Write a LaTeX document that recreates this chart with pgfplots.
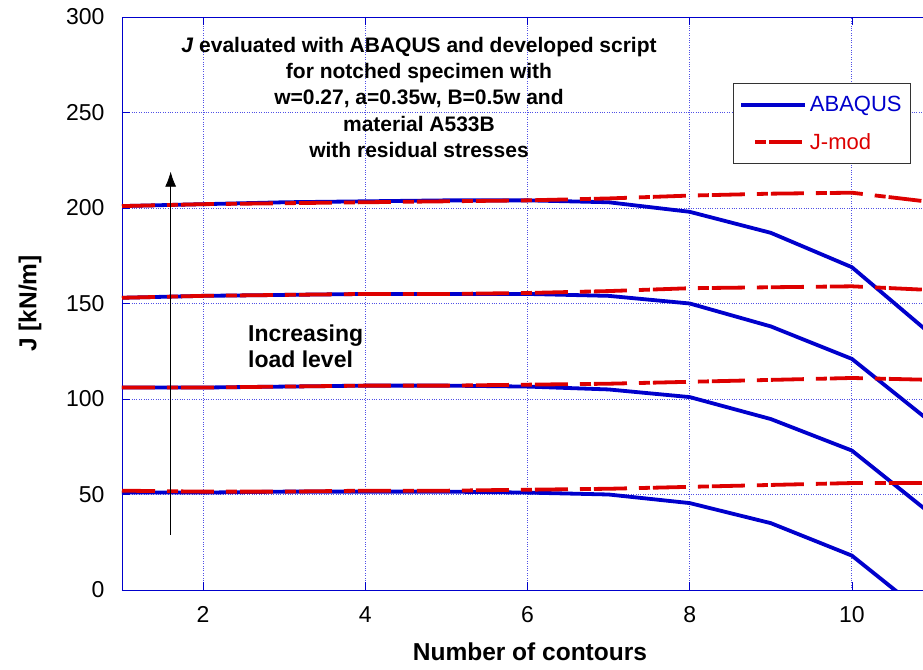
\documentclass[border=0pt]{standalone}
\usepackage{pgfplots}
\pgfplotsset{compat=1.18}
\usetikzlibrary{arrows.meta}
\usepackage{fontspec}
\setmainfont{Liberation Sans}
\definecolor{mblue}{RGB}{0,0,204}
\definecolor{mred}{RGB}{221,0,0}
\definecolor{gridblue}{RGB}{80,80,230}
\begin{document}
\begin{tikzpicture}[font=\fontsize{20}{26}\selectfont]
\begin{axis}[
  scale only axis, width=811pt, height=573pt,
  xmin=1, xmax=11, ymin=0, ymax=300,
  xtick={2,4,6,8,10}, ytick={0,50,...,300},
  /pgf/number format/assume math mode=true,
  axis line style={mblue, line width=0.8pt},
  major tick style={mblue, line width=0.8pt},
  major tick length=8pt,
  tick align=inside,
  grid=major,
  major grid style={gridblue, dotted, line width=0.9pt},
  tick label style={font=\fontsize{23}{26}\selectfont, black},
  xticklabel style={anchor=north, yshift=-13pt},
  yticklabel style={anchor=east, xshift=-14pt},
  xlabel={Number of contours},
  ylabel={J [kN/m]},
  every axis x label/.style={at={(axis description cs:0.503,-0.108)}, anchor=center, font=\bfseries\fontsize{24.5}{28}\selectfont},
  every axis y label/.style={at={(axis description cs:-0.1134,0.5)}, anchor=center, rotate=90, font=\bfseries\fontsize{24.5}{28}\selectfont},
  legend style={at={(0.9729,0.8848)}, anchor=north east, draw=black!80, line width=0.8pt, fill=white,
    font=\fontsize{22}{26}\selectfont, inner xsep=6pt, inner ysep=10pt, row sep=14pt,
    nodes={inner sep=3pt}},
  legend cell align=left,
]
% ABAQUS
\addplot[mblue, line width=3.8pt, legend image code/.code={\draw[mblue, line width=3.8pt] (0pt,0pt) -- (64pt,0pt);}] coordinates {
(1,51) (2,51) (3,51.5) (4,51.5) (5,51.5) (6,51) (7,50) (8,45.5) (9,35) (10,18) (11,-16)};
\addlegendentry{\textcolor{mblue}{ABAQUS}}
\addplot[mblue, line width=3.8pt, forget plot] coordinates {
(1,106) (2,106) (3,106.5) (4,107) (5,107) (6,106.5) (7,105) (8,101) (9,89.5) (10,73) (11,39)};
\addplot[mblue, line width=3.8pt, forget plot] coordinates {
(1,153) (2,154) (3,154.5) (4,155) (5,155) (6,155) (7,154) (8,150) (9,138) (10,121) (11,87)};
\addplot[mblue, line width=3.8pt, forget plot] coordinates {
(1,201) (2,202) (3,203) (4,203.5) (5,204) (6,204) (7,203) (8,198) (9,187) (10,169) (11,133)};
% J-mod
\addplot[mred, line width=3.8pt, dash pattern=on 33pt off 12pt on 11pt off 3pt,
  legend image code/.code={\draw[mred, line width=3.8pt, dash pattern=on 11pt off 3pt on 33pt off 12pt] (14pt,0pt) -- (61pt,0pt);}] coordinates {
(1,52) (2,51.5) (3,51.5) (4,52) (5,52) (6,52.5) (7,53) (8,54) (9,55) (10,56) (11,56)};
\addlegendentry{\textcolor{mred}{J-mod}}
\addplot[mred, line width=3.8pt, dash pattern=on 33pt off 12pt on 11pt off 3pt, forget plot] coordinates {
(1,106) (2,106) (3,106.5) (4,107) (5,107) (6,107.5) (7,108) (8,109) (9,110) (10,111) (11,110)};
\addplot[mred, line width=3.8pt, dash pattern=on 33pt off 12pt on 11pt off 3pt, forget plot] coordinates {
(1,153) (2,154) (3,154.5) (4,155) (5,155) (6,155.5) (7,156.5) (8,158) (9,158.5) (10,159) (11,157)};
\addplot[mred, line width=3.8pt, dash pattern=on 33pt off 12pt on 11pt off 3pt, forget plot] coordinates {
(1,201) (2,202) (3,202.5) (4,203) (5,203.5) (6,204) (7,205) (8,206.5) (9,207.5) (10,208) (11,203)};
% annotations
\node[align=center, font=\bfseries\fontsize{21}{26.2}\selectfont] at (axis cs:4.662,257.9)
  {\textit{J} evaluated with ABAQUS and developed script\\for notched specimen with\\w=0.27, a=0.35w, B=0.5w and\\material A533B\\with residual stresses};
\node[align=left, anchor=west, inner sep=0pt, font=\bfseries\fontsize{23}{26}\selectfont] at (axis cs:2.553,127.7)
  {Increasing\\load level};
\draw[-{Latex[length=15pt,width=11pt]}, line width=0.8pt, black] (axis cs:1.6,28.8) -- (axis cs:1.6,219);
\end{axis}
\pgfresetboundingbox
\useasboundingbox (-122pt,-79pt) rectangle (801pt,590pt);
\end{tikzpicture}
\end{document}
